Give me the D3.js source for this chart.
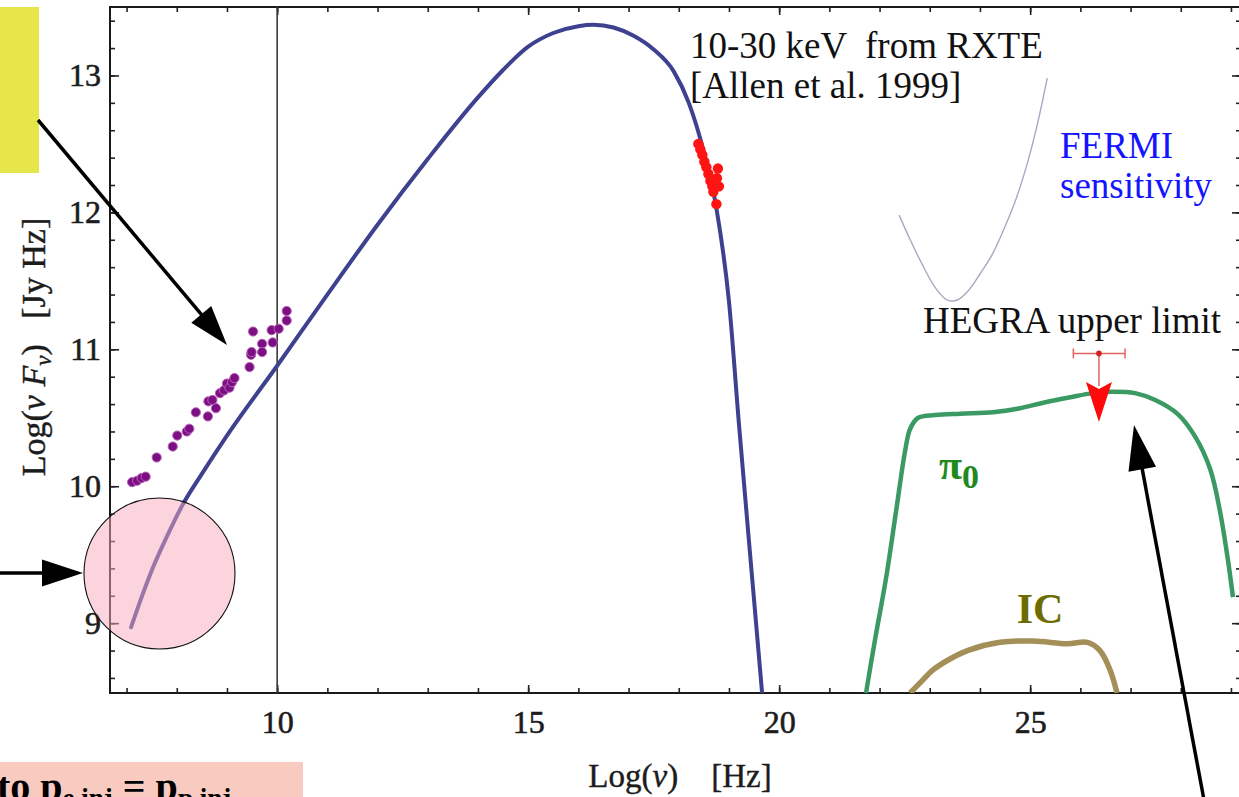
<!DOCTYPE html>
<html>
<head>
<meta charset="utf-8">
<script src="https://cdn.jsdelivr.net/npm/d3@7"></script>
<style>
  html, body { margin: 0; padding: 0; background: #fff; overflow: hidden; }
  text { font-family: "Liberation Serif", "Times New Roman", serif; }
</style>
</head>
<body>
<svg id="chart" width="1239" height="797"></svg>
<script>
// ---- data: log10(nu) [Hz] vs log10(nu F_nu) [Jy Hz] ----
const xTickValues = [10, 15, 20, 25];
const yTickValues = [9, 10, 11, 12, 13];

// synchrotron model
const synchrotron = [
  [7.09, 8.97], [7.30, 9.19], [7.53, 9.41], [7.80, 9.63], [8.11, 9.86],
  [8.50, 10.09], [9.0, 10.37], [10.0, 10.88],
  [11.0, 11.40], [12.0, 11.91], [13.0, 12.39], [14.0, 12.84], [14.5, 13.04],
  [15.0, 13.21], [15.5, 13.31], [16.0, 13.36], [16.3, 13.37], [16.7, 13.35],
  [17.1, 13.29], [17.5, 13.19], [17.9, 13.03], [18.2, 12.80], [18.5, 12.44],
  [18.75, 12.03], [19.0, 11.35], [19.2, 10.45], [19.45, 9.38], [19.66, 8.49]
];

// radio measurements
const radioPoints = [
  [7.11, 10.03], [7.21, 10.04], [7.30, 10.06], [7.38, 10.07], [7.60, 10.21],
  [7.92, 10.29], [8.01, 10.37], [8.20, 10.40], [8.25, 10.42], [8.38, 10.54],
  [8.62, 10.51], [8.63, 10.62], [8.71, 10.63], [8.78, 10.57], [8.86, 10.68],
  [8.94, 10.70], [9.00, 10.75], [9.05, 10.72], [9.10, 10.76], [9.15, 10.79],
  [9.45, 10.87], [9.48, 10.96], [9.49, 10.98], [9.52, 11.13], [9.70, 11.04],
  [9.70, 10.98], [9.91, 11.05], [9.89, 11.14], [10.03, 11.15], [10.19, 11.21],
  [10.19, 11.28]
];

// RXTE 10-30 keV points
const rxtePoints = [
  [18.39, 12.50], [18.43, 12.46], [18.47, 12.42], [18.51, 12.37], [18.55, 12.33],
  [18.59, 12.28], [18.63, 12.23], [18.67, 12.19], [18.69, 12.15], [18.75, 12.06],
  [18.78, 12.32], [18.80, 12.19], [18.76, 12.25]
];

// pi0 decay model
const pionDecay = [
  [21.73, 8.49], [21.91, 8.88], [22.13, 9.33], [22.33, 9.82], [22.51, 10.26],
  [22.61, 10.42], [22.77, 10.50], [23.11, 10.52], [23.61, 10.53], [24.26, 10.54],
  [24.80, 10.57], [25.26, 10.61], [25.80, 10.65], [26.25, 10.68], [26.65, 10.69],
  [27.09, 10.68], [27.49, 10.63], [27.93, 10.53], [28.29, 10.36], [28.59, 10.12],
  [28.78, 9.82], [28.94, 9.46], [29.04, 9.19]
];

// inverse Compton model
const inverseCompton = [
  [22.61, 8.49], [22.85, 8.58], [23.07, 8.66], [23.41, 8.74], [23.75, 8.80],
  [24.40, 8.86], [25.06, 8.87], [25.74, 8.85], [26.14, 8.86], [26.39, 8.80],
  [26.59, 8.66], [26.73, 8.49]
];

// FERMI sensitivity curve
const fermiSensitivity = [
  [22.39, 11.98], [22.61, 11.80], [22.85, 11.62], [23.11, 11.45], [23.35, 11.36],
  [23.55, 11.36], [23.75, 11.42], [24.00, 11.55], [24.24, 11.69], [24.48, 11.88],
  [24.72, 12.10], [24.96, 12.38], [25.16, 12.67], [25.34, 12.98]
];

// HEGRA upper limit: point, energy range, arrow tip
const hegraX = 26.37, hegraY = 10.97, hegraXLo = 25.86, hegraXHi = 26.89, hegraTip = 10.47;

// ---- layout ----
const W = 1239, H = 797;
const plot = { left: 110, right: 1241, top: 7, bottom: 693 };
const x = d3.scaleLinear().domain([6.67, 29.2]).range([plot.left, plot.right]);
const y = d3.scaleLinear().domain([8.49, 13.5]).range([plot.bottom, plot.top]);

const svg = d3.select('#chart');
svg.append('rect').attr('width', W).attr('height', H).attr('fill', '#fff');

svg.append('defs').append('clipPath').attr('id', 'plotClip')
  .append('rect')
  .attr('x', plot.left).attr('y', plot.top)
  .attr('width', plot.right - plot.left).attr('height', plot.bottom - plot.top);

// ---- axes (mirrored, inward ticks) ----
const xMinor = d3.range(7, 30);
const yMinor = d3.range(43, 68).map(i => i / 5);

function styleAxis(g) {
  g.select('.domain').remove();
  g.selectAll('line').attr('stroke', '#222').attr('stroke-width', 1.6);
  g.selectAll('text')
    .attr('font-family', '"Liberation Serif", "Times New Roman", serif')
    .attr('font-size', 32).attr('fill', '#1c1c1c')
    .attr('stroke', '#1c1c1c').attr('stroke-width', 0.6);
}

svg.append('g').attr('transform', `translate(0,${plot.bottom})`)
  .call(d3.axisBottom(x).tickValues(xMinor).tickSize(-5).tickFormat(''))
  .call(styleAxis);
svg.append('g').attr('transform', `translate(0,${plot.bottom})`)
  .call(d3.axisBottom(x).tickValues(xTickValues).tickSize(-8).tickPadding(17).tickFormat(d3.format('d')))
  .call(styleAxis);
svg.append('g').attr('transform', `translate(0,${plot.top})`)
  .call(d3.axisTop(x).tickValues(xMinor).tickSize(-5).tickFormat(''))
  .call(styleAxis);
svg.append('g').attr('transform', `translate(0,${plot.top})`)
  .call(d3.axisTop(x).tickValues(xTickValues).tickSize(-8).tickFormat(''))
  .call(styleAxis);

svg.append('g').attr('transform', `translate(${plot.left},0)`)
  .call(d3.axisLeft(y).tickValues(yMinor).tickSize(-5).tickFormat(''))
  .call(styleAxis);
svg.append('g').attr('transform', `translate(${plot.left},0)`)
  .call(d3.axisLeft(y).tickValues(yTickValues).tickSize(-9).tickPadding(9).tickFormat(d3.format('d')))
  .call(styleAxis);
svg.append('g').attr('transform', `translate(${plot.right},0)`)
  .call(d3.axisRight(y).tickValues(yMinor).tickSize(-5).tickFormat(''))
  .call(styleAxis);
svg.append('g').attr('transform', `translate(${plot.right},0)`)
  .call(d3.axisRight(y).tickValues(yTickValues).tickSize(-9).tickFormat(''))
  .call(styleAxis);

// frame
svg.append('rect')
  .attr('x', plot.left).attr('y', plot.top)
  .attr('width', plot.right - plot.left).attr('height', plot.bottom - plot.top)
  .attr('fill', 'none').attr('stroke', '#1a1a1a').attr('stroke-width', 2);

// vertical reference line at log(nu) = 10
svg.append('line')
  .attr('x1', x(10)).attr('x2', x(10))
  .attr('y1', plot.top).attr('y2', plot.bottom)
  .attr('stroke', '#3a3a3a').attr('stroke-width', 1.6);

// ---- axis titles ----
const xTitle = svg.append('text')
  .attr('x', 680).attr('y', 787).attr('text-anchor', 'middle')
  .attr('font-size', 33).attr('fill', '#1c1c1c')
  .attr('stroke', '#1c1c1c').attr('stroke-width', 0.4)
  .style('white-space', 'pre');
xTitle.append('tspan').text('Log(');
xTitle.append('tspan').attr('font-style', 'italic').text('ν');
xTitle.append('tspan').text(')    [Hz]');

const yTitle = svg.append('text')
  .attr('transform', 'translate(45,347) rotate(-90)').attr('text-anchor', 'middle')
  .attr('font-size', 34).attr('fill', '#1c1c1c')
  .attr('stroke', '#1c1c1c').attr('stroke-width', 0.4)
  .style('white-space', 'pre');
yTitle.append('tspan').text('Log(');
yTitle.append('tspan').attr('font-style', 'italic').text('ν ');
yTitle.append('tspan').attr('font-style', 'italic').text('F');
yTitle.append('tspan').attr('font-style', 'italic').attr('font-size', 23).attr('dy', 6).text('ν');
yTitle.append('tspan').attr('dy', -6).text(')   [Jy Hz]');

// ---- model curves ----
const smooth = d3.line()
  .x(d => x(d[0])).y(d => y(d[1]))
  .curve(d3.curveCatmullRom.alpha(0.5));
const monotone = d3.line()
  .x(d => x(d[0])).y(d => y(d[1]))
  .curve(d3.curveMonotoneX);

const curves = svg.append('g').attr('clip-path', 'url(#plotClip)');

curves.append('path').datum(fermiSensitivity)
  .attr('d', smooth).attr('fill', 'none')
  .attr('stroke', '#a9a8c2').attr('stroke-width', 1.4);

curves.append('path').datum(inverseCompton)
  .attr('d', smooth).attr('fill', 'none')
  .attr('stroke', '#a38f57').attr('stroke-width', 5.5).attr('stroke-linejoin', 'round');

curves.append('path').datum(pionDecay)
  .attr('d', smooth).attr('fill', 'none')
  .attr('stroke', '#3b9a64').attr('stroke-width', 4.5).attr('stroke-linejoin', 'round');

curves.append('path').datum(synchrotron)
  .attr('d', monotone).attr('fill', 'none')
  .attr('stroke', '#3d4190').attr('stroke-width', 4).attr('stroke-linecap', 'round');

// ---- measurements ----
svg.append('g').selectAll('circle').data(radioPoints).join('circle')
  .attr('cx', d => x(d[0])).attr('cy', d => y(d[1])).attr('r', 4.6)
  .attr('fill', '#7c1082').attr('stroke', '#b860bc').attr('stroke-width', 1);

svg.append('g').selectAll('circle').data(rxtePoints).join('circle')
  .attr('cx', d => x(d[0])).attr('cy', d => y(d[1])).attr('r', 5.2)
  .attr('fill', '#ff1414');

// HEGRA upper limit marker
const hg = svg.append('g');
const hx = x(hegraX), hy = y(hegraY), tipY = y(hegraTip);
hg.append('line').attr('x1', x(hegraXLo)).attr('x2', x(hegraXHi)).attr('y1', hy).attr('y2', hy)
  .attr('stroke', '#e06464').attr('stroke-width', 1.5);
[hegraXLo, hegraXHi].forEach(v => {
  hg.append('line').attr('x1', x(v)).attr('x2', x(v)).attr('y1', hy - 5).attr('y2', hy + 5)
    .attr('stroke', '#e06464').attr('stroke-width', 1.5);
});
hg.append('line').attr('x1', hx).attr('x2', hx).attr('y1', hy).attr('y2', tipY - 36)
  .attr('stroke', '#e06464').attr('stroke-width', 1.5);
hg.append('circle').attr('cx', hx).attr('cy', hy).attr('r', 2.8).attr('fill', '#d42020');
hg.append('path')
  .attr('d', `M${hx - 13},${tipY - 40} L${hx},${tipY - 33} L${hx + 13},${tipY - 40} L${hx},${tipY} Z`)
  .attr('fill', '#ff0a0a');

// ---- labels ----
function label(xp, yp, str, opts = {}) {
  return svg.append('text').attr('x', xp).attr('y', yp)
    .attr('font-size', opts.size || 37)
    .attr('font-weight', opts.weight || 'normal')
    .attr('fill', opts.fill || '#111')
    .attr('text-anchor', opts.anchor || 'start')
    .style('white-space', 'pre')
    .text(str);
}
label(690, 58, '10-30 keV  from RXTE');
label(690, 98, '[Allen et al. 1999]');
label(1060, 158, 'FERMI', { fill: '#1414ff' });
label(1060, 198, 'sensitivity', { fill: '#1414ff' });
label(923, 333, 'HEGRA upper limit');
label(1040, 623, 'IC', { size: 42, weight: 'bold', fill: '#6e6c00', anchor: 'middle' });

const piLabel = svg.append('text').attr('x', 939).attr('y', 479)
  .attr('font-weight', 'bold').attr('fill', '#1f8a22');
piLabel.append('tspan').attr('font-size', 42).text('π');
piLabel.append('tspan').attr('font-size', 34).attr('dy', 9).text('0');

// ---- annotation overlays ----
svg.append('rect').attr('x', 0).attr('y', 7).attr('width', 39).attr('height', 166)
  .attr('fill', '#e6e64b');

svg.append('circle').attr('cx', 159.5).attr('cy', 573.5).attr('r', 75.5)
  .attr('fill', '#f7aabd').attr('fill-opacity', 0.5)
  .attr('stroke', '#111').attr('stroke-width', 1.1);

svg.append('rect').attr('x', 0).attr('y', 762).attr('width', 303).attr('height', 40)
  .attr('fill', '#f8cac0');

const eqn = svg.append('text').attr('x', -3).attr('y', 800)
  .attr('font-weight', 'bold').attr('font-size', 40).attr('fill', '#000')
  .style('white-space', 'pre');
eqn.append('tspan').text('to p');
eqn.append('tspan').attr('font-size', 27).attr('dy', 7).text('e,inj');
eqn.append('tspan').attr('dy', -7).text(' = p');
eqn.append('tspan').attr('font-size', 27).attr('dy', 7).text('p,inj');

function arrow(x1, y1, x2, y2, headLen, headHalf, width) {
  const dx = x2 - x1, dy = y2 - y1, len = Math.hypot(dx, dy);
  const ux = dx / len, uy = dy / len, px = -uy, py = ux;
  const bx = x2 - ux * headLen, by = y2 - uy * headLen;
  svg.append('line').attr('x1', x1).attr('y1', y1).attr('x2', bx + ux * 2).attr('y2', by + uy * 2)
    .attr('stroke', '#000').attr('stroke-width', width);
  svg.append('path')
    .attr('d', `M${x2},${y2} L${bx + px * headHalf},${by + py * headHalf} L${bx - px * headHalf},${by - py * headHalf} Z`)
    .attr('fill', '#000');
}
arrow(38, 120, 227, 345, 40, 13, 3.5);
arrow(0, 573, 83, 573, 41, 13.5, 3.5);
arrow(1204, 800, 1134, 425, 45, 14, 3.5);
</script>
</body>
</html>
